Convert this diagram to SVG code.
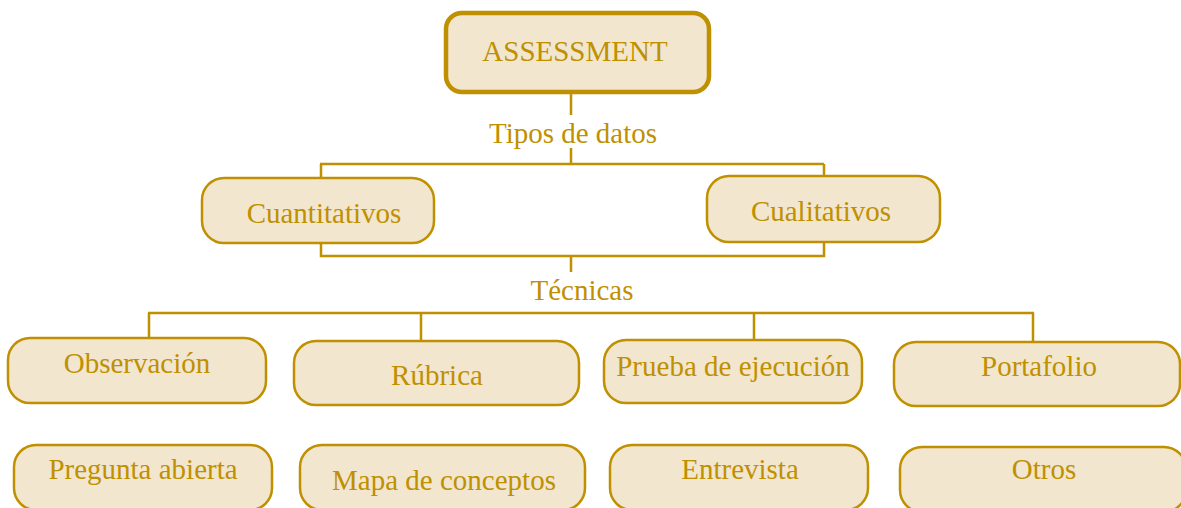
<svg xmlns="http://www.w3.org/2000/svg" width="1181" height="508" viewBox="0 0 1181 508">
<style>
.box{fill:#F2E6CF;stroke:#BF9000;stroke-width:2.5}
.main{fill:#F2E6CF;stroke:#BF9000;stroke-width:4.5}
.t{font-family:"Liberation Serif","Times New Roman",serif;font-size:29px;fill:#BF9000;text-anchor:middle}
.c{fill:none;stroke:#BF9000;stroke-width:2.5}
</style>
<rect width="1181" height="508" fill="#ffffff"/>
<g id="connectors">
<path class="c" d="M571 93V115M571 148V164M320 164H824M321 164V178M824 164V176"/>
<path class="c" d="M321 243V256H824V243M571 256V272"/>
<path class="c" d="M148 313H1034M149 313V338M421 313V341M754 313V340M1033 313V342"/>
</g>
<g id="label-tipos"><text class="t" x="573" y="143">Tipos de datos</text></g>
<g id="label-tecnicas"><text class="t" x="582" y="300">Técnicas</text></g>
<g id="assessment"><rect class="main" x="446" y="13" width="263" height="79" rx="16"/><text class="t" x="575" y="61">ASSESSMENT</text></g>
<g id="cuantitativos"><rect class="box" x="202" y="178" width="232" height="65" rx="22"/><text class="t" x="324" y="223">Cuantitativos</text></g>
<g id="cualitativos"><rect class="box" x="707" y="176" width="233" height="66" rx="22"/><text class="t" x="821" y="221">Cualitativos</text></g>
<g id="observacion"><rect class="box" x="8" y="338" width="258" height="65" rx="22"/><text class="t" x="137" y="373">Observación</text></g>
<g id="rubrica"><rect class="box" x="294" y="341" width="285" height="64" rx="22"/><text class="t" x="437" y="385">Rúbrica</text></g>
<g id="prueba"><rect class="box" x="604" y="340" width="258" height="63" rx="22"/><text class="t" x="733" y="376">Prueba de ejecución</text></g>
<g id="portafolio"><rect class="box" x="894" y="342" width="286" height="64" rx="22"/><text class="t" x="1039" y="376">Portafolio</text></g>
<g id="pregunta"><rect class="box" x="14" y="445" width="258" height="65" rx="22"/><text class="t" x="143" y="479">Pregunta abierta</text></g>
<g id="mapa"><rect class="box" x="300" y="445" width="285" height="65" rx="22"/><text class="t" x="444" y="490">Mapa de conceptos</text></g>
<g id="entrevista"><rect class="box" x="610" y="445" width="258" height="65" rx="22"/><text class="t" x="740" y="479">Entrevista</text></g>
<g id="otros"><rect class="box" x="900" y="447" width="286" height="65" rx="22"/><text class="t" x="1044" y="479">Otros</text></g>
</svg>
